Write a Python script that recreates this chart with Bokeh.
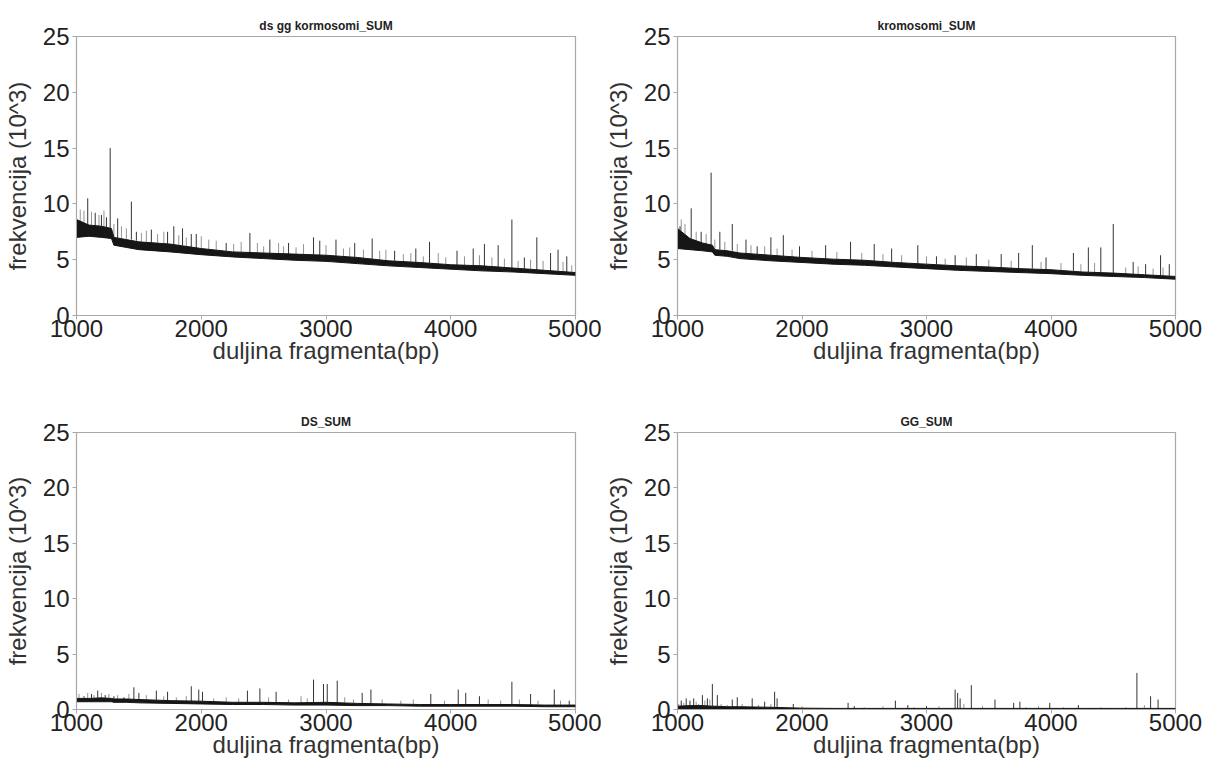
from bokeh.plotting import figure
from bokeh.layouts import gridplot
from bokeh.models import Range1d, FixedTicker
from bokeh.embed import file_html
from bokeh.resources import INLINE

# ---------------- data ----------------
titles = ["ds gg kormosomi_SUM", "kromosomi_SUM", "DS_SUM", "GG_SUM"]
x_ticks = [1000, 2000, 3000, 4000, 5000]
y_ticks = [0, 5, 10, 15, 20, 25]

# dense baseline band (lower / upper edge of the black trace)
band_x = [1000, 1100, 1200, 1280, 1300, 1400, 1500, 1750, 2000, 2250, 2500,
          2750, 3000, 3250, 3500, 3750, 4000, 4250, 4500, 4750, 5000]

tl_lo = [7.0, 7.1, 7.0, 6.9, 6.3, 6.1, 5.9, 5.7, 5.45, 5.25, 5.1, 4.95, 4.85, 4.65, 4.45, 4.3, 4.15, 4.0, 3.9, 3.75, 3.6]
tl_hi = [8.6, 8.1, 8.0, 7.8, 7.0, 6.8, 6.6, 6.4, 6.0, 5.7, 5.6, 5.5, 5.4, 5.2, 4.9, 4.75, 4.55, 4.45, 4.25, 4.05, 3.85]

tr_lo = [6.0, 5.9, 5.8, 5.7, 5.4, 5.3, 5.1, 4.9, 4.75, 4.6, 4.5, 4.35, 4.2, 4.05, 3.95, 3.85, 3.75, 3.6, 3.5, 3.4, 3.25]
tr_hi = [7.8, 6.9, 6.5, 6.3, 5.9, 5.8, 5.6, 5.4, 5.2, 5.05, 4.95, 4.75, 4.6, 4.45, 4.35, 4.2, 4.1, 3.9, 3.8, 3.65, 3.5]

bl_lo = [0.7, 0.7, 0.7, 0.7, 0.65, 0.65, 0.6, 0.55, 0.5, 0.45, 0.45, 0.4, 0.4, 0.35, 0.35, 0.3, 0.3, 0.3, 0.3, 0.25, 0.25]
bl_hi = [1.0, 1.0, 1.05, 1.0, 0.95, 0.95, 0.9, 0.8, 0.75, 0.65, 0.65, 0.6, 0.65, 0.55, 0.5, 0.45, 0.45, 0.45, 0.45, 0.4, 0.4]

br_lo = [0.05, 0.05, 0.05, 0.05, 0.05, 0.05, 0.05, 0.03, 0.02, 0.02, 0.02, 0.02, 0.02, 0.02, 0.02, 0.02, 0.02, 0.02, 0.02, 0.02, 0.02]
br_hi = [0.3, 0.35, 0.35, 0.3, 0.3, 0.25, 0.25, 0.2, 0.12, 0.1, 0.1, 0.1, 0.1, 0.1, 0.1, 0.1, 0.1, 0.1, 0.1, 0.1, 0.1]

# major spikes: position, peak, base
tl_sx = [1090, 1150, 1200, 1240, 1270, 1330, 1440, 1480, 1600, 1730, 1780, 1850, 1920, 1960, 2200, 2390, 2550, 2700,
         2900, 2950, 3080, 3230, 3370, 3550, 3720, 3830, 4050, 4180, 4270, 4380, 4490, 4590, 4690, 4800, 4860, 4930]
tl_peak = [10.5, 9.2, 9.0, 8.8, 15.0, 8.7, 10.2, 7.5, 7.7, 7.5, 8.0, 7.8, 7.3, 7.3, 6.5, 7.4, 6.8, 6.5,
           7.0, 6.7, 6.8, 6.5, 6.9, 5.8, 6.0, 6.6, 5.8, 6.0, 6.4, 6.3, 8.6, 5.2, 7.0, 5.6, 5.9, 5.3]
tl_base = [8.1, 8.0, 8.0, 7.9, 7.8, 6.9, 6.8, 6.7, 6.5, 6.4, 6.4, 6.3, 6.1, 6.0, 5.7, 5.65, 5.6, 5.5,
           5.45, 5.4, 5.35, 5.2, 5.05, 4.9, 4.75, 4.7, 4.5, 4.45, 4.4, 4.3, 4.25, 4.2, 4.1, 4.0, 4.0, 3.9]

tr_sx = [1020, 1110, 1190, 1270, 1340, 1440, 1550, 1640, 1750, 1850, 1980, 2190, 2390, 2580, 2720, 2930,
         3080, 3230, 3400, 3600, 3740, 3850, 3960, 4180, 4300, 4400, 4500, 4660, 4760, 4880, 4950]
tr_peak = [8.0, 9.6, 7.5, 12.8, 7.5, 8.2, 6.8, 6.2, 7.0, 7.2, 6.2, 6.3, 6.6, 6.4, 6.0, 6.3,
           5.3, 5.4, 5.5, 5.5, 5.6, 6.3, 5.2, 5.6, 6.1, 6.1, 8.2, 4.8, 4.6, 5.4, 4.6]
tr_base = [7.4, 6.9, 6.5, 6.3, 5.9, 5.8, 5.6, 5.5, 5.4, 5.3, 5.2, 5.05, 5.0, 4.9, 4.8, 4.65,
           4.6, 4.45, 4.4, 4.3, 4.2, 4.2, 4.1, 4.0, 3.9, 3.85, 3.8, 3.7, 3.65, 3.6, 3.5]

bl_sx = [1060, 1120, 1170, 1230, 1300, 1380, 1460, 1500, 1640, 1730, 1920, 1980, 2010, 2370, 2470, 2600,
         2900, 2980, 3010, 3090, 3290, 3360, 3840, 4060, 4120, 4230, 4490, 4640, 4830, 4950]
bl_peak = [1.2, 1.4, 1.7, 1.3, 1.2, 1.1, 2.0, 1.5, 1.7, 1.6, 2.1, 1.8, 1.6, 1.7, 1.9, 1.6,
           2.7, 2.3, 2.3, 2.6, 1.5, 1.8, 1.4, 1.8, 1.5, 1.2, 2.5, 1.4, 1.8, 0.8]
bl_base = [1.0, 1.0, 1.05, 1.0, 0.95, 0.95, 0.9, 0.9, 0.85, 0.8, 0.75, 0.75, 0.75, 0.65, 0.65, 0.6,
           0.6, 0.65, 0.65, 0.6, 0.55, 0.5, 0.45, 0.45, 0.45, 0.45, 0.45, 0.4, 0.4, 0.4]

br_sx = [1030, 1070, 1100, 1130, 1200, 1240, 1280, 1320, 1440, 1480, 1600, 1700, 1780, 1800, 1930, 2370,
         2420, 2750, 2850, 3000, 3230, 3250, 3270, 3360, 3550, 3700, 3750, 3990, 4220, 4690, 4800, 4860]
br_peak = [0.8, 1.0, 0.8, 1.0, 1.3, 1.0, 2.3, 1.3, 0.9, 1.1, 1.0, 0.7, 1.6, 1.0, 0.5, 0.6,
           0.3, 0.8, 0.4, 0.3, 1.8, 1.5, 1.0, 2.2, 0.9, 0.6, 0.7, 0.6, 0.4, 3.3, 1.2, 0.9]
br_base = [0.3, 0.3, 0.35, 0.35, 0.35, 0.3, 0.3, 0.3, 0.25, 0.25, 0.2, 0.2, 0.2, 0.2, 0.12, 0.1,
           0.1, 0.1, 0.1, 0.1, 0.1, 0.1, 0.1, 0.1, 0.1, 0.1, 0.1, 0.1, 0.1, 0.1, 0.1, 0.1]

# minor (grey) fluctuations above the band: position, peak, base
tl_mx = [1030, 1060, 1120, 1180, 1220, 1300, 1360, 1400, 1520, 1560, 1650, 1700, 1820, 1880, 2000, 2060, 2120,
         2260, 2320, 2450, 2500, 2620, 2660, 2760, 2820, 3000, 3140, 3190, 3300, 3430, 3480, 3620, 3680, 3780,
         3900, 3960, 4110, 4230, 4330, 4430, 4540, 4640, 4740, 4900, 4970]
tl_mpeak = [9.5, 9.4, 9.3, 9.0, 9.4, 8.2, 8.0, 7.8, 7.4, 7.6, 7.3, 7.5, 7.2, 7.0, 7.1, 6.8, 6.7,
            6.4, 6.6, 6.5, 6.2, 6.5, 6.2, 6.1, 6.4, 6.3, 6.0, 6.1, 5.9, 5.8, 5.9, 5.5, 5.6, 5.3,
            5.6, 5.2, 5.3, 5.4, 5.2, 5.1, 4.9, 5.0, 4.9, 4.8, 4.5]
tl_mbase = [8.4, 8.3, 8.1, 8.0, 7.95, 7.0, 6.9, 6.8, 6.6, 6.6, 6.5, 6.45, 6.3, 6.2, 6.0, 5.9, 5.85,
            5.7, 5.7, 5.6, 5.6, 5.55, 5.55, 5.5, 5.45, 5.4, 5.3, 5.25, 5.15, 4.95, 4.9, 4.8, 4.78, 4.72,
            4.65, 4.6, 4.5, 4.45, 4.4, 4.3, 4.22, 4.15, 4.05, 3.95, 3.85]

tr_mx = [1030, 1060, 1150, 1230, 1300, 1380, 1480, 1590, 1700, 1800, 1920, 2080, 2280, 2480, 2650, 2800,
         3000, 3150, 3320, 3500, 3680, 3920, 4080, 4240, 4350, 4600, 4700, 4820, 4900]
tr_mpeak = [8.6, 8.2, 7.5, 7.3, 6.8, 6.6, 6.4, 6.3, 6.2, 6.0, 5.9, 5.8, 5.7, 5.6, 5.5, 5.4,
            5.3, 5.1, 5.2, 5.0, 4.9, 4.8, 4.7, 4.6, 4.7, 4.3, 4.4, 4.2, 4.3]
tr_mbase = [7.6, 7.3, 6.7, 6.4, 5.9, 5.8, 5.65, 5.55, 5.45, 5.35, 5.25, 5.15, 5.0, 4.95, 4.85, 4.7,
            4.6, 4.5, 4.4, 4.35, 4.22, 4.12, 4.05, 3.9, 3.85, 3.72, 3.68, 3.6, 3.55]

bl_mx = [1020, 1090, 1140, 1200, 1260, 1330, 1420, 1560, 1700, 1800, 1880, 2100, 2200, 2300, 2540, 2700,
         2800, 2850, 3150, 3220, 3450, 3600, 3700, 3950, 4300, 4400, 4550, 4700, 4880]
bl_mpeak = [1.4, 1.5, 1.3, 1.5, 1.4, 1.3, 1.4, 1.3, 1.2, 1.1, 1.2, 1.0, 1.1, 1.0, 1.1, 0.9,
            1.2, 1.0, 1.1, 0.9, 0.9, 0.8, 0.9, 0.8, 0.9, 0.8, 0.9, 0.8, 0.8]
bl_mbase = [1.0, 1.0, 1.0, 1.05, 1.0, 0.95, 0.95, 0.88, 0.82, 0.78, 0.76, 0.7, 0.68, 0.66, 0.64, 0.62,
            0.6, 0.6, 0.62, 0.57, 0.53, 0.48, 0.45, 0.45, 0.45, 0.45, 0.43, 0.42, 0.4]

br_mx = [1010, 1050, 1150, 1170, 1220, 1260, 1350, 1400, 1520, 1650, 1750, 2000, 2500, 2650, 2900, 3100,
         3300, 3450, 3800, 3900, 4100, 4400, 4600, 4750]
br_mpeak = [0.5, 0.6, 0.7, 0.5, 0.8, 0.9, 0.5, 0.4, 0.5, 0.4, 0.5, 0.3, 0.2, 0.3, 0.2, 0.3,
            0.5, 0.3, 0.2, 0.3, 0.2, 0.2, 0.2, 0.4]
br_mbase = [0.3, 0.3, 0.35, 0.35, 0.35, 0.3, 0.3, 0.25, 0.25, 0.2, 0.2, 0.12, 0.1, 0.1, 0.1, 0.1,
            0.1, 0.1, 0.1, 0.1, 0.1, 0.1, 0.1, 0.1]

x_label = "duljina fragmenta(bp)"
y_label = "frekvencija (10^3)"

FONT = "Liberation Sans"
FRAME = "#a8a8a8"


def make_panel(title, lo, hi, sx, speak, sbase, mx, mpeak, mbase, bl, br, bt, bb, w, h):
    p = figure(width=w, height=h, x_range=Range1d(1000, 5000), y_range=Range1d(0, 25),
               output_backend="svg", toolbar_location=None,
               min_border_left=bl, min_border_right=br, min_border_top=bt, min_border_bottom=bb)
    p.title.text = title
    p.title.text_font = FONT
    p.title.text_font_size = "12px"
    p.title.text_font_style = "bold"
    p.title.text_color = "#222222"
    p.title.align = "center"
    p.title.standoff = 8

    p.grid.visible = False
    p.outline_line_color = FRAME
    p.outline_line_width = 1.2
    p.background_fill_color = "white"
    p.border_fill_color = "white"

    for ax in (p.xaxis[0], p.yaxis[0]):
        ax.axis_line_color = FRAME
        ax.major_tick_line_color = FRAME
        ax.minor_tick_line_color = None
        ax.major_tick_out = 4
        ax.major_tick_in = 0
        ax.major_label_text_font = FONT
        ax.major_label_text_font_size = "24px"
        ax.major_label_text_color = "#222222"
        ax.axis_label_text_font = FONT
        ax.axis_label_text_font_size = "24px"
        ax.axis_label_text_font_style = "normal"
        ax.axis_label_text_color = "#333333"
    p.xaxis.ticker = FixedTicker(ticks=x_ticks)
    p.yaxis.ticker = FixedTicker(ticks=y_ticks)
    p.xaxis.axis_label = x_label
    p.yaxis.axis_label = y_label
    p.xaxis.major_label_standoff = 0
    p.xaxis.axis_label_standoff = -3
    p.yaxis.major_label_standoff = 3
    p.yaxis.axis_label_standoff = 9

    p.segment(x0=mx, y0=mbase, x1=mx, y1=mpeak, line_color="#666666", line_width=1, line_alpha=0.7)
    p.segment(x0=sx, y0=sbase, x1=sx, y1=speak, line_color="#111111", line_width=1, line_alpha=0.85)
    p.varea(x=band_x, y1=lo, y2=hi, fill_color="#161616")
    p.line(band_x, hi, line_color="#161616", line_width=1)
    p.line(band_x, lo, line_color="#161616", line_width=1)
    return p


tl = make_panel(titles[0], tl_lo, tl_hi, tl_sx, tl_peak, tl_base, tl_mx, tl_mpeak, tl_mbase, 69, 26, 36, 65, 601, 380)
tr = make_panel(titles[1], tr_lo, tr_hi, tr_sx, tr_peak, tr_base, tr_mx, tr_mpeak, tr_mbase, 73, 27, 36, 65, 601, 380)
blp = make_panel(titles[2], bl_lo, bl_hi, bl_sx, bl_peak, bl_base, bl_mx, bl_mpeak, bl_mbase, 69, 26, 52, 49, 601, 380)
brp = make_panel(titles[3], br_lo, br_hi, br_sx, br_peak, br_base, br_mx, br_mpeak, br_mbase, 73, 27, 52, 49, 601, 380)

grid = gridplot([[tl, tr], [blp, brp]], toolbar_location=None)

open("out.html", "w").write(file_html(grid, INLINE))
